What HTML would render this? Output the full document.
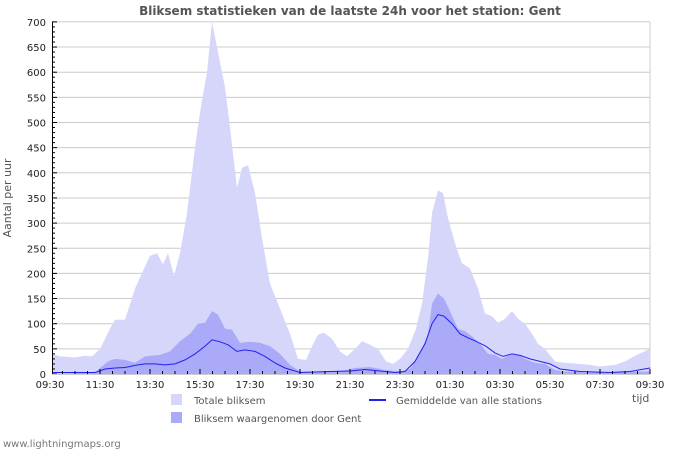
<!DOCTYPE html><html><head><style>body{margin:0;background:#fff}svg{font-family:"DejaVu Sans","Liberation Sans",sans-serif}</style></head><body>
<svg id="s" width="700" height="450" xmlns="http://www.w3.org/2000/svg">
<rect width="700" height="450" fill="#fff"/>
<text x="350" y="15" text-anchor="middle" font-size="12" font-weight="bold" fill="#555">Bliksem statistieken van de laatste 24h voor het station: Gent</text>
<g id="grid"></g>
<path id="tot" fill="#d6d6fb"/>
<path id="gent" fill="#aaaaf8"/>
<path id="avg" fill="none" stroke="#2222ee" stroke-width="1"/>
<g id="ax"></g>
<text transform="translate(11,198) rotate(-90)" text-anchor="middle" font-size="11" fill="#555">Aantal per uur</text>
<text x="632" y="402" font-size="11" fill="#555">tijd</text>
<rect x="171" y="394" width="11" height="11" fill="#d6d6fb"/>
<text x="194" y="404" font-size="10" fill="#555">Totale bliksem</text>
<rect x="171" y="412" width="11" height="11" fill="#aaaaf8"/>
<text x="194" y="422" font-size="10" fill="#555">Bliksem waargenomen door Gent</text>
<line x1="369" y1="400" x2="386" y2="400" stroke="#2222ee" stroke-width="2"/>
<text x="396" y="404" font-size="10" fill="#555">Gemiddelde van alle stations</text>
<text x="3" y="447" font-size="10" fill="#777">www.lightningmaps.org</text>
</svg>
<script>
var Y=v=>374-v*0.503;
var T=[[52,40],[60,35],[75,33],[85,36],[92,35],[100,50],[110,90],[115,108],[125,108],[135,170],[143,205],[150,235],[157,240],[163,218],[168,240],[174,195],[180,240],[187,320],[195,450],[200,520],[207,600],[212,700],[218,640],[225,570],[230,490],[237,370],[242,410],[248,415],[255,360],[262,270],[270,180],[280,130],[290,80],[298,30],[306,28],[312,55],[318,78],[324,82],[332,70],[340,45],[347,35],[355,50],[362,65],[370,58],[378,50],[386,25],[393,20],[400,30],[408,50],[416,90],[422,140],[428,230],[432,320],[438,365],[443,360],[448,310],[455,260],[462,220],[470,210],[478,170],[485,120],[492,115],[498,102],[505,110],[512,125],[518,110],[525,100],[532,80],[538,60],[545,50],[555,25],[565,22],[580,20],[590,18],[600,15],[615,18],[625,25],[637,38],[650,50]];
var G=[[52,0],[95,3],[100,12],[108,25],[115,30],[125,28],[135,22],[145,35],[160,38],[170,45],[180,65],[190,80],[198,100],[205,102],[212,125],[218,118],[225,90],[232,88],[240,62],[250,64],[260,62],[270,55],[280,40],[290,18],[300,5],[340,5],[355,12],[370,14],[385,8],[400,5],[410,10],[420,40],[428,80],[432,140],[438,160],[444,150],[450,125],[458,90],[465,85],[472,75],[480,60],[488,40],[495,38],[502,30],[510,38],[518,38],[525,30],[535,22],[545,20],[555,8],[565,5],[590,3],[650,5]];
var A=[[52,3],[95,3],[105,10],[115,12],[125,13],[135,17],[145,20],[155,20],[165,18],[175,20],[185,28],[195,40],[205,55],[212,68],[220,64],[228,58],[237,45],[245,48],[255,45],[265,35],[275,22],[285,12],[300,3],[330,5],[350,6],[365,9],[380,6],[395,3],[405,5],[415,25],[425,60],[432,100],[438,118],[444,115],[452,100],[460,80],[468,72],[476,65],[486,55],[495,42],[503,35],[512,40],[520,37],[530,30],[540,25],[550,20],[560,10],[580,5],[610,3],[630,5],[650,12]];
function ln(p){return p.map((q,i)=>(i?'L':'M')+q[0]+' '+Y(q[1]).toFixed(1)).join(' ')}
function ar(p){return ln(p)+' L650 374 L52 374 Z'}
document.getElementById('tot').setAttribute('d',ar(T));
document.getElementById('gent').setAttribute('d',ar(G));
document.getElementById('avg').setAttribute('d',ln(A));
var g='',a='';
for(var v=50;v<=700;v+=50){g+='<line x1="52" x2="650" y1="'+Y(v)+'" y2="'+Y(v)+'" stroke="#ccc"/>';}
g+='<line x1="650" x2="650" y1="22" y2="374" stroke="#ccc"/>';
for(var v=0;v<=700;v+=50)a+='<text x="46" y="'+(Y(v)+4)+'" text-anchor="end" font-size="10" fill="#222">'+v+'</text>';
for(var v=0;v<=700;v+=10)a+='<line x1="52" x2="'+(v%50?55:57)+'" y1="'+Y(v)+'" y2="'+Y(v)+'" stroke="#000"/>';
a+='<line x1="52.5" x2="52.5" y1="22" y2="375" stroke="#000"/><line x1="52" x2="650" y1="374.5" y2="374.5" stroke="#ccc"/>';
var L=['09:30','11:30','13:30','15:30','17:30','19:30','21:30','23:30','01:30','03:30','05:30','07:30','09:30'];
for(var i=0;i<=48;i++){var x=50+i*12.5;if(x<52)continue;a+='<line x1="'+x+'" x2="'+x+'" y1="'+(i%4?371:369)+'" y2="374" stroke="#000"/>';}
L.forEach((t,i)=>a+='<text x="'+(50+i*50)+'" y="388" text-anchor="middle" font-size="10" fill="#222">'+t+'</text>');
document.getElementById('grid').innerHTML=g;document.getElementById('ax').innerHTML=a;
</script></body></html>
